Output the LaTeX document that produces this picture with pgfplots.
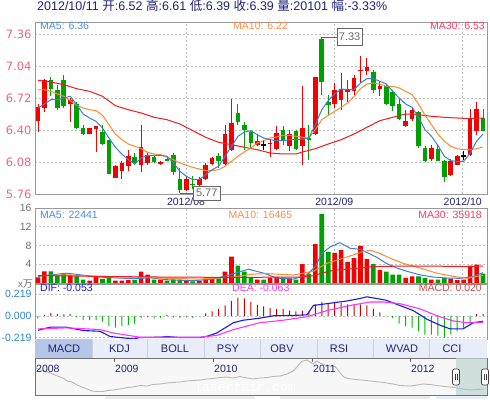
\documentclass[border=0pt]{standalone}
\usepackage{pgfplots}
\usepackage{pgfplotstable}
\usepackage{fontspec}
\pgfplotsset{compat=1.18}
\setmainfont{Liberation Sans}
\newfontfamily\cjk{Noto Sans CJK SC}
\newfontfamily\dejavu{DejaVu Sans}
\newfontfamily\mono{Liberation Mono}

\definecolor{cred}{HTML}{F40000}
\definecolor{cgreen}{HTML}{00A000}
\definecolor{ma5}{HTML}{3A7FD5}
\definecolor{ma10}{HTML}{FF8A2E}
\definecolor{ma30}{HTML}{EE1C1C}
\definecolor{navy}{HTML}{22227A}
\definecolor{pricelab}{HTML}{F2667A}
\definecolor{macdlab}{HTML}{2E86D6}
\definecolor{difc}{HTML}{1A1AE6}
\definecolor{deac}{HTML}{FF33FF}
\definecolor{macdtxt}{HTML}{D04848}
\definecolor{tabbg}{HTML}{E8EDF8}
\definecolor{tabsel}{HTML}{B5C6E6}
\definecolor{tabsep}{HTML}{C8D0E2}
\definecolor{ma5t}{HTML}{4A8FE2}
\definecolor{ma10t}{HTML}{FF8C4C}
\definecolor{ma30t}{HTML}{FF3A66}
\definecolor{mred}{HTML}{CC0000}
\definecolor{mgreen}{HTML}{00BB00}
\definecolor{selc}{HTML}{C4D6D4}

\pgfplotstableread{
i O H L C
0 6.49 6.66 6.38 6.63
1 6.62 6.91 6.58 6.90
5 6.66 6.72 6.48 6.70
8 6.36 6.42 6.36 6.42
9 6.41 6.44 6.18 6.44
12 5.92 6.05 5.92 6.04
13 5.99 6.09 5.91 6.07
14 6.04 6.20 5.99 6.14
16 6.05 6.45 5.98 6.23
17 6.07 6.18 6.05 6.15
19 6.06 6.09 6.05 6.08
23 5.80 5.93 5.79 5.91
25 5.85 5.93 5.79 5.91
26 5.91 6.07 5.90 6.05
27 6.06 6.13 6.05 6.12
29 6.06 6.45 6.05 6.36
30 6.20 6.71 6.19 6.47
34 6.25 6.35 6.24 6.29
36 6.26 6.31 6.13 6.275
37 6.21 6.44 6.20 6.37
39 6.24 6.40 6.19 6.36
41 6.24 6.84 6.05 6.42
43 6.36 6.93 6.35 6.93
46 6.66 6.87 6.62 6.80
47 6.70 6.97 6.60 6.81
48 6.78 6.90 6.68 6.81
49 6.79 6.95 6.75 6.92
50 6.99 7.14 6.87 7.00
51 6.99 7.12 6.95 7.03
53 6.81 6.89 6.74 6.84
57 6.44 6.60 6.43 6.49
58 6.51 6.62 6.49 6.60
61 6.11 6.25 6.09 6.22
64 5.95 6.11 5.94 6.09
65 6.05 6.15 6.05 6.14
67 6.15 6.61 6.14 6.51
68 6.39 6.68 6.35 6.61
}\up

\pgfplotstableread{
i O H L C
2 6.90 6.93 6.74 6.81
3 6.80 6.85 6.60 6.62
4 6.90 6.95 6.62 6.64
6 6.66 6.68 6.41 6.42
7 6.42 6.45 6.35 6.36
10 6.38 6.45 6.25 6.26
11 6.30 6.30 5.96 5.96
15 6.13 6.17 6.05 6.07
18 6.13 6.14 6.07 6.08
20 6.11 6.12 6.09 6.10
21 6.15 6.17 5.95 5.98
22 5.91 6.02 5.77 5.80
24 5.86 5.94 5.81 5.85
28 6.14 6.17 6.02 6.09
31 6.57 6.66 6.45 6.48
32 6.45 6.48 6.20 6.40
33 6.38 6.39 6.22 6.27
38 6.40 6.44 6.25 6.29
40 6.39 6.40 6.20 6.21
42 6.32 6.45 6.10 6.30
44 7.31 7.33 6.75 6.88
45 6.68 6.75 6.54 6.65
52 6.98 7.00 6.77 6.80
54 6.84 6.85 6.65 6.66
55 6.78 6.80 6.59 6.64
56 6.66 6.72 6.50 6.51
59 6.58 6.59 6.22 6.24
60 6.22 6.24 6.08 6.09
62 6.21 6.25 6.09 6.09
63 6.09 6.10 5.88 5.93
69 6.52 6.61 6.39 6.39
}\down

\pgfplotstableread{
i O H L C
35 6.25 6.30 6.20 6.256
66 6.14 6.19 6.10 6.146
}\doji

\pgfplotstableread{
i v
0 1.2
1 2.5
5 1.6
8 0.5
9 1.3
12 0.5
13 0.5
14 0.6
16 2.4
17 1.8
19 0.7
23 0.5
25 0.5
26 1.0
27 1.0
29 2.4
30 5.6
34 0.7
36 1.1
37 1.3
39 1.0
41 4.0
43 8.3
46 6.4
47 7.0
48 4.5
49 5.3
50 7.9
51 5.1
53 2.8
57 1.1
58 1.4
61 0.7
64 0.9
65 0.6
66 0.7
67 3.7
68 3.9
}\volup

\pgfplotstableread{
i v
2 2.5
3 1.6
4 2.0
6 1.4
7 0.7
10 0.9
11 1.2
15 0.6
18 0.7
20 0.5
21 0.7
22 0.7
24 0.35
28 1.0
31 3.7
32 2.4
33 1.1
35 0.7
38 1.2
40 0.7
42 2.0
44 14.7
45 6.6
52 4.0
54 2.4
55 1.8
56 1.8
59 1.4
60 1.1
62 0.7
63 1.1
69 2.0
}\voldown

\pgfplotstableread{
i m
1 0.010
2 0.028
3 0.017
4 0.014
5 0.017
20 0.010
26 0.024
27 0.045
28 0.070
29 0.104
30 0.150
31 0.184
32 0.174
33 0.139
34 0.111
35 0.094
36 0.080
37 0.070
38 0.070
39 0.052
40 0.045
41 0.052
42 0.042
43 0.115
44 0.139
45 0.129
46 0.129
47 0.129
48 0.115
49 0.115
50 0.115
51 0.104
52 0.070
53 0.035
68 0.017
69 0.020
}\macdpos

\pgfplotstableread{
i m
0 -0.028
6 -0.017
7 -0.045
8 -0.045
9 -0.045
10 -0.060
11 -0.104
12 -0.120
13 -0.104
14 -0.094
15 -0.080
16 -0.024
17 -0.017
18 -0.028
19 -0.024
21 -0.017
22 -0.024
23 -0.017
24 -0.024
25 -0.005
54 -0.005
55 -0.024
56 -0.080
57 -0.104
58 -0.120
59 -0.156
60 -0.190
61 -0.190
62 -0.200
63 -0.219
64 -0.190
65 -0.156
66 -0.120
67 -0.080
}\macdneg

\pgfplotsset{
 panel/.style={
  scale only axis, width=452pt, xmin=-0.465, xmax=69.615,
  axis line style={draw=black!40, line width=0.8pt},
  major tick length=0pt, tick style={draw=none},
  grid style={draw=black!25, line width=0.5pt, dash pattern=on 2pt off 2pt},
 },
 wick/.style={draw=none, mark=none, forget plot,
  error bars/.cd, y dir=both, y explicit, error mark=none,
  error bar style={draw=#1, line width=0.9pt}},
 body/.style={draw=none, mark=none, forget plot,
  error bars/.cd, y dir=both, y explicit, error mark=none,
  error bar style={draw=#1, line width=4.6pt}},
}

\begin{document}
\begin{tikzpicture}[x=1pt,y=1pt]
\path[use as bounding box, fill=white] (0,0) rectangle (490,399);

% header
\node[anchor=base west, inner sep=0, text=navy, font=\fontsize{12.5}{14}\selectfont] at (37,388.5)
 {2012/10/11 {\cjk 开}:6.52 {\cjk 高}:6.61 {\cjk 低}:6.39 {\cjk 收}:6.39 {\cjk 量}:20101 {\cjk 幅}:-3.33\%};

% ---------------- price panel ----------------
\begin{axis}[panel, name=price, at={(35pt,205pt)}, anchor=south west, height=172pt,
  ymin=5.76, ymax=7.48,
  ytick={5.76,6.08,6.40,6.72,7.04,7.36},
  yticklabels={5.76,6.08,6.40,6.72,7.04,7.36},
  yticklabel style={font=\dejavu\fontsize{11.5}{13}\selectfont, text=pricelab},
  xtick={22.95,45.95,65.85}, xticklabels={2012/08,2012/09,2012/10},
  xticklabel style={font=\fontsize{10.5}{12}\selectfont, text=navy},
  xmajorgrids, ymajorgrids]
\addplot[wick=cred] table[x=i, y expr={(\thisrow{H}+\thisrow{L})/2}, y error expr={(\thisrow{H}-\thisrow{L})/2}] {\up};
\addplot[body=cred] table[x=i, y expr={(\thisrow{O}+\thisrow{C})/2}, y error expr={abs(\thisrow{C}-\thisrow{O})/2}] {\up};
\addplot[wick=cgreen] table[x=i, y expr={(\thisrow{H}+\thisrow{L})/2}, y error expr={(\thisrow{H}-\thisrow{L})/2}] {\down};
\addplot[body=cgreen] table[x=i, y expr={(\thisrow{O}+\thisrow{C})/2}, y error expr={abs(\thisrow{C}-\thisrow{O})/2}] {\down};
\addplot[wick=black] table[x=i, y expr={(\thisrow{H}+\thisrow{L})/2}, y error expr={(\thisrow{H}-\thisrow{L})/2}] {\doji};
\addplot[body=black] table[x=i, y expr={(\thisrow{O}+\thisrow{C})/2}, y error expr={abs(\thisrow{C}-\thisrow{O})/2}] {\doji};
% MA30
\addplot[ma30, line width=1pt, mark=none] coordinates {(0,6.897)(2,6.88)(4,6.853)(6,6.813)(8,6.787)(10,6.737)(12,6.643)(14,6.603)(16,6.57)(18,6.527)(20,6.503)(22,6.46)(24,6.393)(26,6.327)(28,6.277)(30,6.253)(32,6.227)(34,6.203)(36,6.17)(38,6.16)(40,6.16)(41,6.18)(43,6.213)(45,6.26)(47,6.303)(49,6.36)(51,6.427)(53,6.493)(55,6.527)(57,6.56)(59,6.553)(61,6.537)(63,6.527)(65,6.52)(67,6.513)(69,6.52)};
% MA10
\addplot[ma10, line width=1pt, mark=none] coordinates {(0,6.80)(1,6.803)(2,6.787)(3,6.76)(4,6.737)(5,6.693)(6,6.647)(7,6.62)(8,6.603)(9,6.593)(10,6.547)(11,6.453)(12,6.36)(13,6.303)(14,6.26)(15,6.237)(16,6.213)(17,6.177)(18,6.16)(19,6.153)(20,6.127)(21,6.103)(22,6.07)(23,6.047)(24,6.027)(25,6.01)(26,5.993)(27,5.993)(28,6.003)(29,6.037)(30,6.087)(31,6.137)(32,6.18)(33,6.22)(34,6.27)(35,6.293)(36,6.32)(37,6.33)(38,6.347)(39,6.347)(40,6.337)(41,6.327)(42,6.32)(43,6.403)(44,6.503)(45,6.547)(46,6.587)(47,6.627)(48,6.67)(49,6.737)(50,6.813)(51,6.86)(52,6.87)(53,6.86)(54,6.837)(55,6.837)(56,6.82)(57,6.787)(58,6.753)(59,6.66)(60,6.547)(61,6.453)(62,6.36)(63,6.287)(64,6.237)(65,6.213)(66,6.203)(67,6.203)(68,6.213)(69,6.23)};
% MA5
\addplot[ma5, line width=1pt, mark=none] coordinates {(0,6.62)(1,6.66)(2,6.703)(3,6.703)(4,6.72)(5,6.737)(6,6.653)(7,6.56)(8,6.52)(9,6.487)(10,6.42)(11,6.32)(12,6.227)(13,6.16)(14,6.103)(15,6.06)(16,6.12)(17,6.147)(18,6.147)(19,6.147)(20,6.137)(21,6.07)(22,5.987)(23,5.937)(24,5.903)(25,5.903)(26,5.953)(27,6.003)(28,6.037)(29,6.137)(30,6.237)(31,6.337)(32,6.38)(33,6.393)(34,6.353)(35,6.32)(36,6.303)(37,6.293)(38,6.293)(39,6.303)(40,6.303)(41,6.31)(42,6.32)(43,6.453)(44,6.603)(45,6.693)(46,6.76)(47,6.81)(48,6.803)(49,6.803)(50,6.87)(51,6.913)(52,6.913)(53,6.887)(54,6.86)(55,6.787)(56,6.72)(57,6.66)(58,6.627)(59,6.527)(60,6.403)(61,6.337)(62,6.247)(63,6.137)(64,6.093)(65,6.087)(66,6.087)(67,6.17)(68,6.287)(69,6.36)};
\coordinate (lowpt) at (axis cs:22,5.77);
\coordinate (highpt) at (axis cs:44,7.33);
\end{axis}

% annotation boxes
\draw[black!60, line width=0.7pt] (lowpt) -- ++(13pt,0pt) node[anchor=west, draw=black!60, line width=0.7pt, fill=white, inner sep=1pt, minimum width=27pt, minimum height=14pt, font=\fontsize{11}{12}\selectfont] {5.77};
\draw[black!60, line width=0.7pt] (highpt) -- ++(15pt,0pt) node[anchor=west, draw=black!60, line width=0.7pt, fill=white, inner sep=1pt, minimum width=25pt, minimum height=17pt, font=\fontsize{11}{12}\selectfont] {7.33};

\node[anchor=base west, inner sep=0, text=ma5t, font=\fontsize{10.5}{12}\selectfont] at (40,369.5) {MA5: 6.36};
\node[anchor=base west, inner sep=0, text=ma10t, font=\fontsize{10.5}{12}\selectfont] at (233,369.5) {MA10: 6.22};
\node[anchor=base east, inner sep=0, text=ma30t, font=\fontsize{10.5}{12}\selectfont] at (485,369.5) {MA30: 6.53};

% ---------------- volume panel ----------------
\begin{axis}[panel, at={(35pt,116pt)}, anchor=south west, height=75pt,
  ymin=0, ymax=16,
  ytick={4,8,12,16}, yticklabels={4,8,12,16},
  yticklabel style={font=\fontsize{10.5}{12}\selectfont, text=black!55},
  xtick={22.95,45.95,65.85}, xticklabels={},
  xmajorgrids, ymajorgrids]
\addplot[ybar, bar width=4.6pt, bar shift=0pt, fill=cred, draw=none, forget plot] table[x=i,y=v] {\volup};
\addplot[ybar, bar width=4.6pt, bar shift=0pt, fill=cgreen, draw=none, forget plot] table[x=i,y=v] {\voldown};
\addplot[ma5, line width=1pt, mark=none] coordinates {(0,1.4)(4.4,2.1)(6.5,1.75)(9.6,1.26)(14.8,0.9)(17.4,1.1)(20,0.7)(24,0.5)(27.2,0.84)(29.8,1.75)(32.6,2.95)(35,2.1)(37,1.05)(39.6,0.84)(41.7,1.75)(43,3.5)(44,6.3)(45.3,7.7)(46.8,8.6)(48.4,7.4)(49.9,7.2)(51,6.5)(52.5,5.5)(54,4.2)(55.6,3.2)(57.2,2.5)(59.2,1.75)(61.3,1.26)(63.4,1.05)(65.4,1.0)(67.5,1.4)(69,2.2)};
\addplot[ma10, line width=1pt, mark=none] coordinates {(0,1.55)(4.4,1.75)(9.6,1.4)(14.8,1.26)(20,1.0)(25,0.84)(30.3,1.26)(33.4,1.9)(35.5,2.0)(39.6,1.7)(42.7,2.5)(44.8,4.2)(46.8,5.05)(48.9,6.0)(50.4,6.7)(51.5,7.0)(53,6.3)(54.6,5.3)(56.6,4.2)(59.2,3.2)(61.8,2.1)(64.4,1.4)(66.5,1.0)(69,1.65)};
\addplot[ma30, line width=1pt, mark=none] coordinates {(0,1.6)(9.6,1.4)(20,1.26)(30.3,1.2)(40.6,1.26)(42.7,1.55)(43.7,2.0)(45.8,2.7)(47.9,2.95)(49.9,3.2)(52,3.5)(56,3.6)(61.3,3.6)(66.5,3.5)(69,3.6)};
\end{axis}

\node[anchor=base west, inner sep=0, text=ma5t, font=\fontsize{10.5}{12}\selectfont] at (40,180.5) {MA5: 22441};
\node[anchor=base west, inner sep=0, text=ma10t, font=\fontsize{10.5}{12}\selectfont] at (228.5,180.5) {MA10: 16465};
\node[anchor=base east, inner sep=0, text=ma30t, font=\fontsize{10.5}{12}\selectfont] at (482,180.5) {MA30: 35918};
\node[text=black!55, font=\fontsize{10}{12}\selectfont, inner sep=0] at (25.5,115) {x{\cjk 万}};

% ---------------- MACD panel ----------------
\begin{axis}[panel, at={(35pt,60pt)}, anchor=south west, height=55pt,
  ymin=-0.234, ymax=0.32,
  ytick={-0.219,0,0.219}, yticklabels={-0.219,0.000,0.219},
  yticklabel style={font=\fontsize{10.5}{12}\selectfont, text=macdlab},
  xtick=\empty, ymajorgrids]
\addplot[ybar, bar width=1pt, bar shift=0pt, fill=mred, draw=none, forget plot] table[x=i,y=m] {\macdpos};
\addplot[ybar, bar width=1pt, bar shift=0pt, fill=mgreen, draw=none, forget plot] table[x=i,y=m] {\macdneg};
\addplot[difc, line width=1.1pt, mark=none] coordinates {(0,-0.146)(1.9,-0.115)(4.4,-0.115)(7,-0.149)(9.6,-0.156)(11.2,-0.209)(13.7,-0.226)(14.8,-0.233)(15.8,-0.219)(18.9,-0.216)(20,-0.209)(22,-0.219)(25.1,-0.219)(26.1,-0.209)(27.7,-0.174)(30.3,-0.07)(31.8,-0.045)(34.4,-0.024)(36.5,0)(39.6,0.003)(41.7,0.01)(42.7,0.104)(44.8,0.122)(47.9,0.149)(49.9,0.174)(51,0.191)(52.5,0.174)(54,0.156)(56.1,0.104)(58.2,0.052)(60.3,-0.035)(62.3,-0.094)(63.9,-0.132)(65.9,-0.132)(67.5,-0.07)(69,-0.055)};
\addplot[deac, line width=1.1pt, mark=none] coordinates {(0,-0.132)(4.4,-0.122)(9.6,-0.139)(11.7,-0.174)(15.8,-0.216)(20,-0.216)(25.1,-0.216)(27.7,-0.198)(30.3,-0.139)(34.4,-0.07)(38,-0.045)(41.7,-0.01)(44.8,0.052)(48.4,0.104)(51.5,0.139)(53.5,0.139)(56.1,0.122)(59.2,0.07)(62.3,-0.01)(64.4,-0.052)(66.5,-0.07)(69,-0.065)};
\end{axis}

\node[anchor=base west, inner sep=0, text=difc, font=\fontsize{10.5}{12}\selectfont] at (40,107) {DIF: -0.053};
\node[anchor=base west, inner sep=0, text=deac, font=\fontsize{10.5}{12}\selectfont] at (232,107) {DEA: -0.063};
\node[anchor=base east, inner sep=0, text=macdtxt, font=\fontsize{10.5}{12}\selectfont] at (482,107) {MACD: 0.020};

% ---------------- tabs ----------------
\fill[tabbg] (35,41) rectangle (487,60);
\fill[tabsel] (35,41) rectangle (92,60);
\foreach \x in {92,147,204,260,317,373,429} \draw[tabsep, line width=0.8pt] (\x,41)--(\x,60);
\foreach \x/\t in {64/MACD,119.5/KDJ,175/BOLL,228/PSY,282/OBV,339/RSI,402/WVAD,452/CCI}
  \node[text=navy, font=\fontsize{11}{13}\selectfont, inner sep=0] at (\x,50.5) {\t};

% ---------------- navigator ----------------
\begin{axis}[scale only axis, at={(35pt,4pt)}, anchor=south west, width=452pt, height=37pt,
  xmin=35, xmax=487, ymin=0, ymax=37, axis line style={draw=black!55, line width=0.8pt},
  axis background/.style={fill=black!3},
  xtick=\empty, ytick=\empty]
\addplot[black!28, line width=0.9pt, mark=none] coordinates {(36,27)(40,25)(45,24)(50,22)(55,20)(60,18)(63,17)(67,14)(72,13)(77,10)(82,8)(87,6)(92,4)(97,3.5)(103,3.5)(108,4.5)(113,5)(120,6)(127,7.5)(133,8)(140,9.5)(147,9)(153,10.5)(160,11)(167,12)(173,12.5)(180,13)(187,14)(193,14.5)(200,15)(207,16)(213,16.5)(220,17.5)(227,18)(233,17)(240,18.5)(247,17)(253,16)(260,17)(267,17.5)(273,18.5)(280,19)(287,21)(293,24)(297,28)(300,32)(303,34)(307,35)(310,33)(313,31)(317,34)(320,32)(325,30)(330,29)(335,28.5)(338,25)(341,21)(344,18)(348,16.5)(355,15.5)(362,15)(370,14)(380,13)(387,12)(393,11)(400,9.5)(410,9)(417,10)(423,11)(430,10.5)(437,9.5)(445,8.5)(450,8)(457,7)};
\addplot[ma5, line width=0.9pt, mark=none] coordinates {(457,7)(463,6)(470,5)(477,5.5)(484,6)};
\end{axis}
\fill[selc, opacity=0.75] (456,4) rectangle (487,41);
\node[text=white, font=\mono\fontsize{13}{14}\selectfont, inner sep=0] at (245,12) {laserfair.com};
\foreach \x/\t in {35/2008,114/2009,213/2010,312/2011,410/2012} {
  \draw[black!60] (\x,41) -- (\x,37);
  \node[anchor=west, text=navy, font=\fontsize{10.5}{12}\selectfont, inner sep=0] at (\x+1,30) {\t};
}
\foreach \x in {456,485} {
  \draw[black!75, fill=white, rounded corners=2pt, line width=0.7pt] (\x-3.5,14) rectangle (\x+3.5,30);
  \draw[black!75, line width=0.5pt] (\x-1,19) -- (\x-1,25) (\x+1,19) -- (\x+1,25);
}
\fill[black!8] (105,0) rectangle (255,3);
\fill[black!8] (280,0) rectangle (430,3);
\fill[tabbg] (436,0) rectangle (487,3);
\end{tikzpicture}
\end{document}
